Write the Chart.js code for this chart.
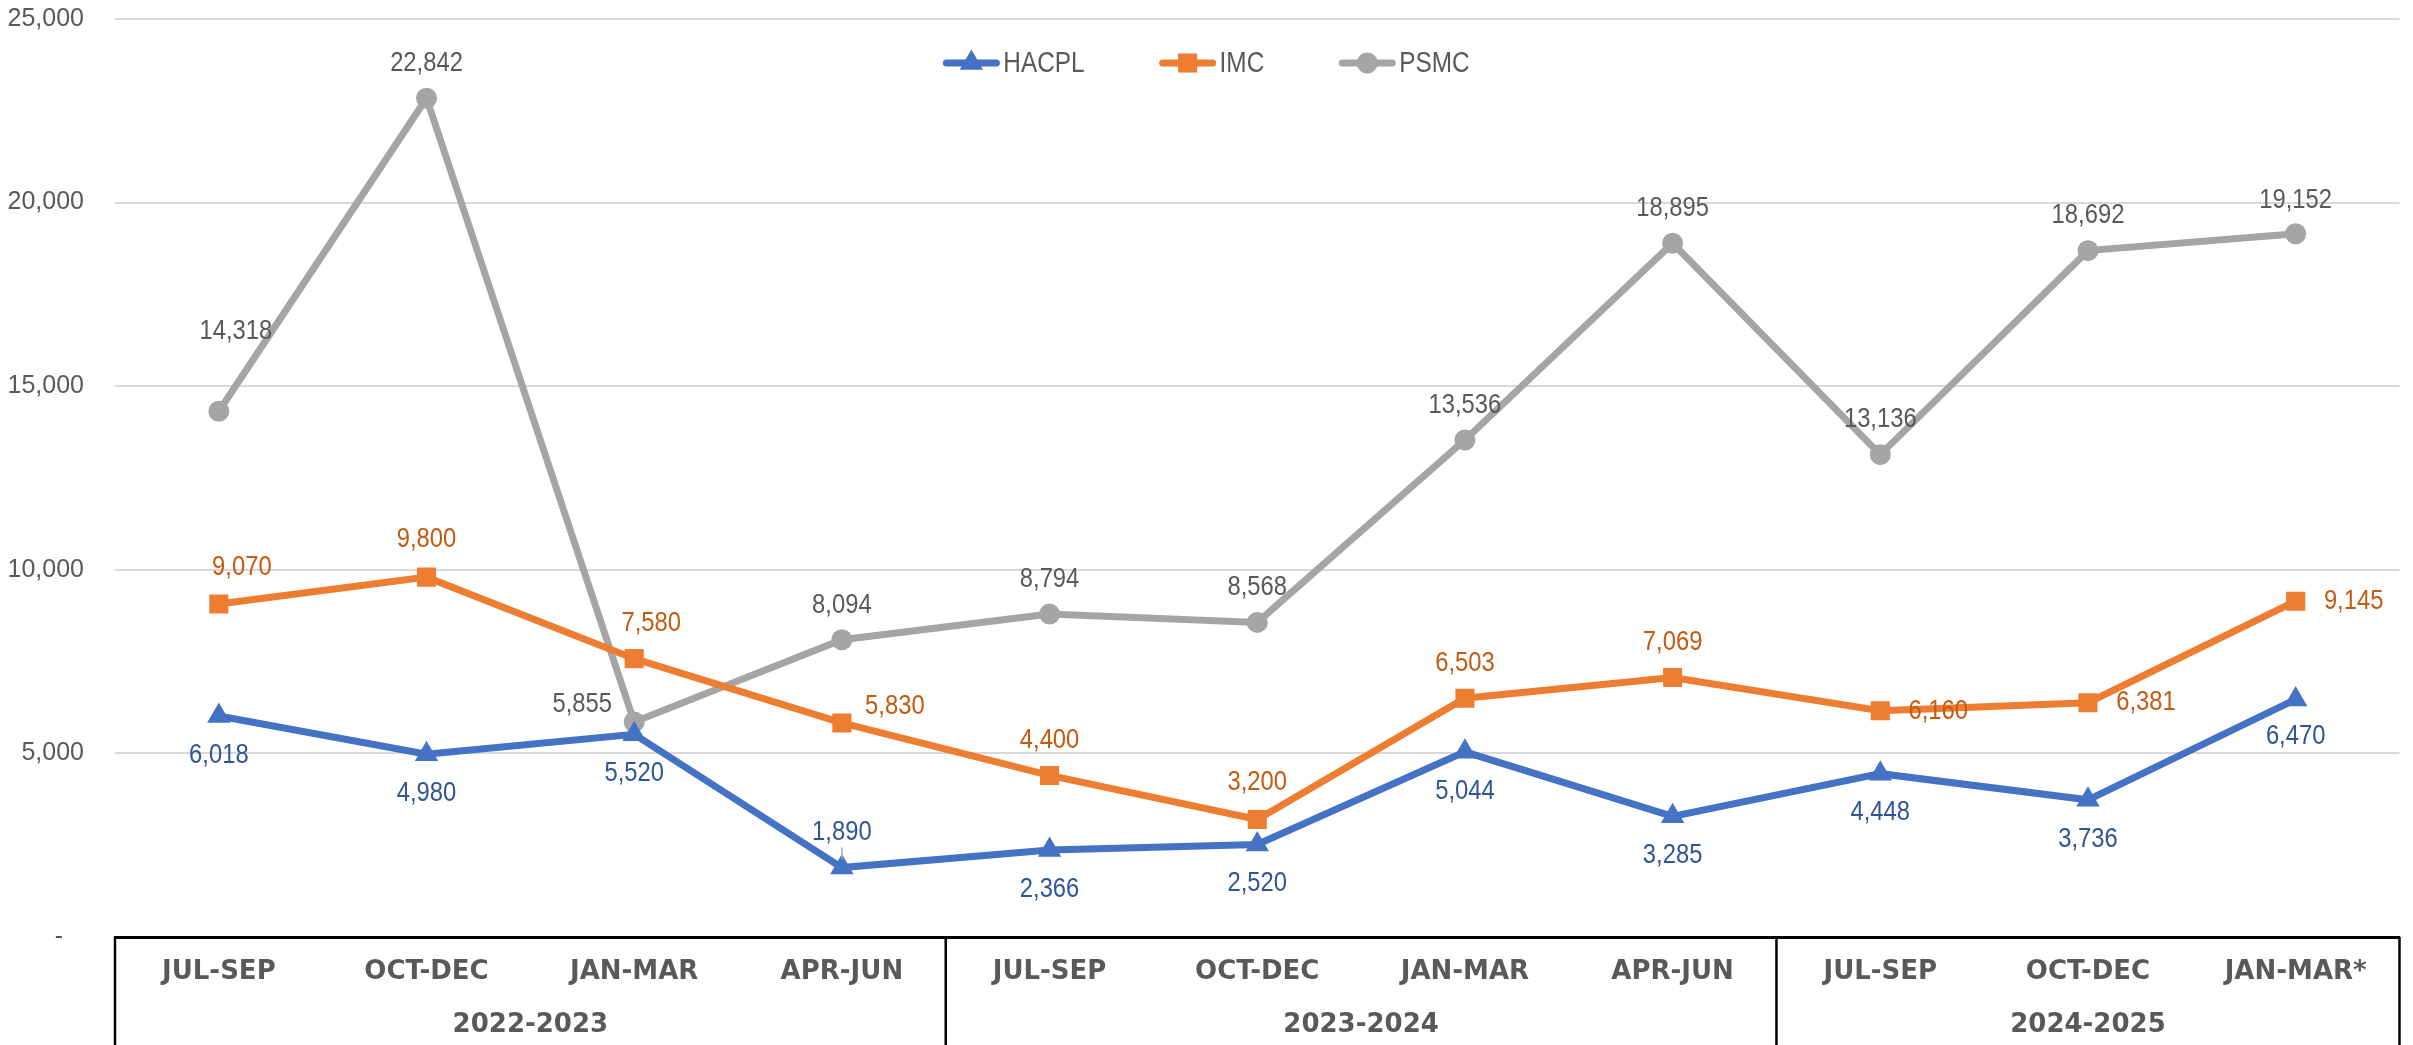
<!DOCTYPE html>
<html>
<head>
<meta charset="utf-8">
<title>HACPL / IMC / PSMC quarterly</title>
<script src="https://cdn.jsdelivr.net/npm/chart.js@4.4.1/dist/chart.umd.min.js"></script>
<style>
    html, body { margin: 0; padding: 0; background: #fff; }
    #wrap { width: 2413px; height: 1045px; }
</style>
</head>
<body>
<div id="wrap"><canvas id="salesChart" width="2413" height="1045"></canvas></div>
<script>
const quarters = ['JUL-SEP', 'OCT-DEC', 'JAN-MAR', 'APR-JUN', 'JUL-SEP', 'OCT-DEC', 'JAN-MAR', 'APR-JUN', 'JUL-SEP', 'OCT-DEC', 'JAN-MAR*'];
const fiscalYears = ['2022-2023', '2023-2024', '2024-2025'];
const yearSpans = [[0, 3], [4, 7], [8, 10]];

const hacpl = [6018, 4980, 5520, 1890, 2366, 2520, 5044, 3285, 4448, 3736, 6470];
const imc = [9070, 9800, 7580, 5830, 4400, 3200, 6503, 7069, 6160, 6381, 9145];
const psmc = [14318, 22842, 5855, 8094, 8794, 8568, 13536, 18895, 13136, 18692, 19152];

const yTicks = [0, 5000, 10000, 15000, 20000, 25000];

// label offsets from each point, same order as the values
const hacplLabelPos = [[0, 39], [0, 39], [0, 39], [0, -35], [0, 39], [0, 39], [0, 39], [0, 39], [0, 39], [0, 39], [0, 37]];
const imcLabelPos = [[23, -37], [0, -38], [17, -35], [53, -17], [0, -35], [0, -37], [0, -35], [0, -35], [58, 0], [58, 0], [58, 0]];
const psmcLabelPos = [[17, -80], [0, -35], [-52, -18], [0, -35], [0, -35], [0, -35], [0, -35], [0, -35], [0, -35], [0, -35], [0, -33]];

const LABEL_FONT = "'Liberation Sans Narrow', 'Liberation Sans', Arial, sans-serif";
const BOLD_AXIS = "'DejaVu Sans', Verdana, sans-serif";

function fmt(v) { return Math.round(v).toLocaleString('en-US'); }

// text squeezed a bit to look like the narrow Office font
function narrowText(ctx, text, x, y, squeeze) {
    ctx.save();
    ctx.translate(x, y);
    ctx.scale(squeeze, 1);
    ctx.fillText(text, 0, 0);
    ctx.restore();
}

const valueLabels = {
    id: 'valueLabels',
    afterDatasetsDraw(chart) {
        const ctx = chart.ctx;
        ctx.save();
        ctx.font = '28px ' + LABEL_FONT;
        ctx.textAlign = 'center';
        ctx.textBaseline = 'middle';
        chart.data.datasets.forEach((ds, i) => {
            const meta = chart.getDatasetMeta(i);
            ctx.fillStyle = ds.labelColor;
            meta.data.forEach((pt, j) => {
                const off = ds.labelPos[j] || [0, -35];
                narrowText(ctx, fmt(ds.data[j]), pt.x + off[0], pt.y + off[1], 0.85);
            });
        });
        // small leader for the 1,890 label
        const p = chart.getDatasetMeta(0).data[3];
        ctx.strokeStyle = '#A6A6A6';
        ctx.lineWidth = 1.5;
        ctx.beginPath();
        ctx.moveTo(p.x, p.y - 20);
        ctx.lineTo(p.x, p.y - 8);
        ctx.stroke();
        ctx.restore();
    }
};

// Excel-style legend: line with marker, drawn over the plot
const lineLegend = {
    id: 'lineLegend',
    afterDraw(chart) {
        const ctx = chart.ctx;
        const lineLen = 56, textGap = 4, itemGap = 75, y = 63, squeeze = 0.84;
        ctx.save();
        ctx.font = '29px ' + LABEL_FONT;
        const items = chart.data.datasets.map(ds => ({ ds, w: lineLen + textGap + ctx.measureText(ds.label).width * squeeze }));
        const total = items.reduce((s, it) => s + it.w, 0) + itemGap * (items.length - 1);
        let x = chart.width / 2 - total / 2;
        items.forEach(it => {
            const ds = it.ds;
            ctx.strokeStyle = ds.borderColor;
            ctx.lineWidth = 7;
            ctx.lineCap = 'round';
            ctx.beginPath();
            ctx.moveTo(x + 3, y);
            ctx.lineTo(x + lineLen - 3, y);
            ctx.stroke();
            ctx.fillStyle = ds.borderColor;
            Chart.helpers.drawPoint(ctx, {
                pointStyle: ds.pointStyle, radius: ds.pointRadius, rotation: 0, borderWidth: 0
            }, x + lineLen / 2, y);
            ctx.fillStyle = '#595959';
            ctx.textAlign = 'left';
            ctx.textBaseline = 'middle';
            narrowText(ctx, ds.label, x + lineLen + textGap, y + 1, squeeze);
            x += it.w + itemGap;
        });
        ctx.restore();
    }
};

// table-like box under the x axis with the fiscal year groups
const yearBoxes = {
    id: 'yearBoxes',
    afterDraw(chart) {
        const ctx = chart.ctx;
        const xs = chart.scales.x;
        const top = chart.chartArea.bottom;
        const bottom = chart.height;
        const half = (xs.getPixelForValue(1) - xs.getPixelForValue(0)) / 2;
        ctx.save();
        ctx.strokeStyle = '#000';
        ctx.lineWidth = 2.5;
        const edges = [xs.getPixelForValue(0) - half];
        yearSpans.forEach(s => edges.push(xs.getPixelForValue(s[1]) + half));
        edges.forEach(ex => {
            ctx.beginPath();
            ctx.moveTo(ex, top);
            ctx.lineTo(ex, bottom);
            ctx.stroke();
        });
        ctx.font = 'bold 26px ' + BOLD_AXIS;
        ctx.fillStyle = '#595959';
        ctx.textAlign = 'center';
        ctx.textBaseline = 'middle';
        yearSpans.forEach((s, i) => {
            const cx = (xs.getPixelForValue(s[0]) + xs.getPixelForValue(s[1])) / 2;
            ctx.fillText(fiscalYears[i], cx, 1025);
        });
        ctx.restore();
    }
};

function makeSeries(label, values, color, textColor, style, radius, labelPos) {
    return {
        label: label,
        data: values,
        borderColor: color,
        backgroundColor: color,
        pointBackgroundColor: color,
        pointBorderColor: color,
        pointBorderWidth: 0,
        pointStyle: style,
        pointRadius: radius,
        pointHoverRadius: radius,
        borderWidth: 7,
        tension: 0,
        fill: false,
        labelColor: textColor,
        labelPos: labelPos
    };
}

const ctx = document.getElementById('salesChart').getContext('2d');
new Chart(ctx, {
    type: 'line',
    data: {
        labels: quarters,
        datasets: [
            makeSeries('HACPL', hacpl, '#4472C4', '#2F5597', 'triangle', 13.5, hacplLabelPos),
            makeSeries('IMC', imc, '#ED7D31', '#C55A11', 'rect', 13.5, imcLabelPos),
            makeSeries('PSMC', psmc, '#A5A5A5', '#595959', 'circle', 10.5, psmcLabelPos)
        ]
    },
    options: {
        responsive: false,
        animation: false,
        devicePixelRatio: 1,
        layout: { padding: { top: 19, right: 13, bottom: 0, left: 0 } },
        plugins: {
            legend: { display: false },
            tooltip: { enabled: false }
        },
        scales: {
            x: {
                offset: true,
                grid: { display: false, drawTicks: false },
                border: { display: true, color: '#000', width: 3 },
                ticks: {
                    autoSkip: false,
                    maxRotation: 0,
                    padding: 20,
                    color: '#595959',
                    font: { family: BOLD_AXIS, size: 26, weight: 'bold' }
                },
                afterFit: s => { s.height = 108; s.paddingLeft = 0; s.paddingRight = 0; }
            },
            y: {
                min: 0,
                max: 25000,
                afterBuildTicks: s => { s.ticks = yTicks.map(v => ({ value: v })); },
                grid: { color: '#D9D9D9', lineWidth: 2, drawTicks: false },
                border: { display: false },
                ticks: {
                    padding: 31,
                    color: '#595959',
                    font: { family: LABEL_FONT, size: 25 },
                    callback: v => v === 0 ? '-   ' : fmt(v)
                },
                afterFit: s => { s.width = 115; s.paddingTop = 0; s.paddingBottom = 0; }
            }
        }
    },
    plugins: [valueLabels, lineLegend, yearBoxes]
});
</script>
</body>
</html>
